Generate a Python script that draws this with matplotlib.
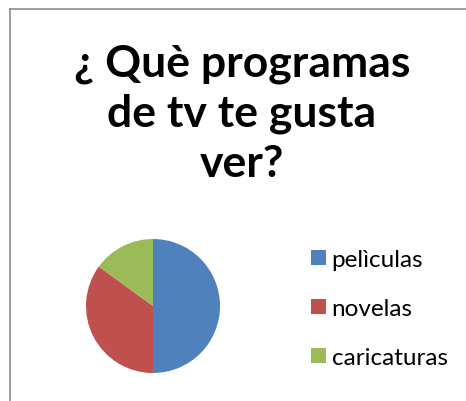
import matplotlib
matplotlib.use('Agg')
import matplotlib.pyplot as plt
from matplotlib.lines import Line2D

# data
labels = ['pelìculas', 'novelas', 'caricaturas']
values = [50, 35, 15]
colors = ['#4F81BD', '#C0504D', '#9BBB59']
title = '¿ Què programas\nde tv te gusta\nver?'

W, H = 466, 402
fig = plt.figure(figsize=(W / 100, H / 100), dpi=100)

# chart area frame (only the top and left edges show)
fig.add_artist(Line2D([9.5 / W, 9.5 / W], [0, 1 - 9.5 / H], color='#8c8c8c', lw=1.2))
fig.add_artist(Line2D([9.5 / W, 1], [1 - 9.5 / H, 1 - 9.5 / H], color='#8c8c8c', lw=1.2))

fig.text(242 / W, 1 - 44 / H, title, ha='center', va='top', fontsize=32,
         fontweight='bold', family='Lato', linespacing=1.3)

# pie: centre (153, 307) px, radius 67 px
ax = fig.add_axes([86 / W, 1 - 374 / H, 134 / W, 134 / H])
wedges, _ = ax.pie(values, colors=colors, startangle=90, counterclock=False,
                   radius=1)
ax.set_xlim(-1, 1)
ax.set_ylim(-1, 1)
ax.set_aspect('equal')
ax.axis('off')

leg = fig.legend(wedges, labels, loc='upper left',
                 bbox_to_anchor=(311 / W, 1 - 250 / H),
                 frameon=False, prop={'family': 'Lato', 'size': 17.5},
                 handlelength=0.6, handleheight=0.6, handletextpad=0.25,
                 labelspacing=1.15, borderpad=0, borderaxespad=0)

fig.savefig('out.png', dpi=100)
